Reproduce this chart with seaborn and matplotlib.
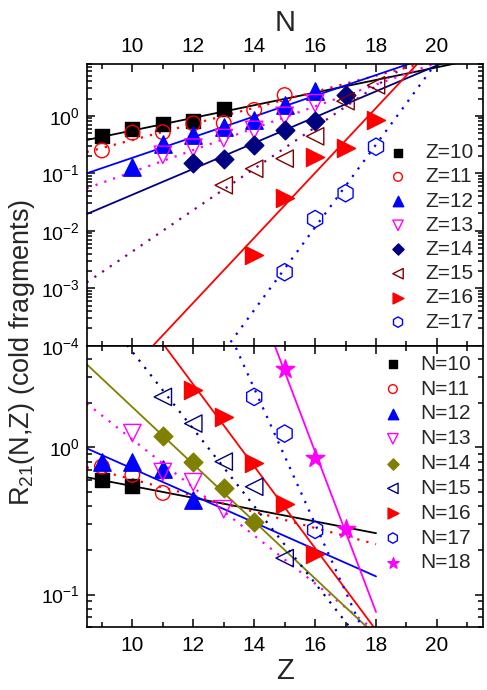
import numpy as np
import seaborn as sns
import matplotlib
matplotlib.use("Agg")
import matplotlib.pyplot as plt
from matplotlib.ticker import MultipleLocator, LogLocator, NullFormatter

# ---- upper panel : R21 versus N, one series per Z
z_names = ["Z=10", "Z=11", "Z=12", "Z=13", "Z=14", "Z=15", "Z=16", "Z=17"]
z_n = [[9, 10, 11, 12, 13],
       [9, 10, 11, 12, 13, 14, 15],
       [10, 11, 12, 13, 14, 15, 16],
       [11, 12, 13, 14, 15, 16],
       [12, 13, 14, 15, 16, 17],
       [13, 14, 15, 16, 17, 18],
       [14, 15, 16, 17, 18],
       [15, 16, 17, 18]]
z_r = [[0.45, 0.60, 0.72, 0.80, 1.32],
       [0.25, 0.51, 0.52, 0.74, 0.75, 1.27, 2.3],
       [0.13, 0.32, 0.46, 0.64, 0.85, 1.55, 2.75],
       [0.21, 0.28, 0.41, 0.57, 1.0, 1.66],
       [0.15, 0.18, 0.31, 0.56, 0.81, 2.3],
       [0.062, 0.12, 0.18, 0.44, 1.8, 3.4],
       [0.0038, 0.037, 0.195, 0.28, 0.85],
       [0.0019, 0.016, 0.045, 0.29]]
# fitted lines : log10(R21) at N=8.5 and slope per unit of N
z_fit0 = [-0.42, -0.63, -1.0, -1.26, -1.71, -2.9, -5.23, -7.34]
z_fit_slope = [0.11, 0.14, 0.18, 0.19, 0.225, 0.36, 0.565, 0.72]

# ---- lower panel : R21 versus Z, one series per N
n_names = ["N=10", "N=11", "N=12", "N=13", "N=14", "N=15", "N=16", "N=17", "N=18"]
n_z = [[9, 10],
       [9, 10, 11],
       [9, 10, 11, 12],
       [10, 11, 12, 13],
       [11, 12, 13, 14],
       [11, 12, 13, 14, 15],
       [12, 13, 14, 15, 16],
       [14, 15, 16],
       [15, 16, 17]]
n_r = [[0.60, 0.55],
       [0.74, 0.65, 0.49],
       [0.80, 0.79, 0.71, 0.44],
       [1.25, 0.68, 0.58, 0.38],
       [1.20, 0.80, 0.53, 0.31],
       [2.2, 1.45, 0.80, 0.54, 0.177],
       [2.44, 1.61, 0.78, 0.41, 0.19],
       [2.2, 1.24, 0.275],
       [3.4, 0.84, 0.28]]
n_fit0 = [-0.203, -0.135, -0.007, 0.298, 0.564, 1.042, 1.40, 2.93, 4.05]
n_fit_slope = [-0.040, -0.055, -0.0915, -0.163, -0.194, -0.262, -0.278, -0.46, -0.544]


# styles
z_mark = ["s", "o", "^", "v", "D", "<", ">", "h"]
z_size = [10, 10.5, 12.5, 12.5, 9.5, 12.5, 13, 12.5]
z_fill = [True, False, True, False, True, False, True, False]
z_col = ["black", "red", "blue", "magenta", "navy", "maroon", "red", "blue"]
z_lcol = ["black", "red", "blue", "magenta", "navy", "purple", "red", "blue"]
z_dot = [False, True, False, True, False, True, False, True]

n_mark = ["s", "o", "^", "v", "D", "<", ">", "h", "*"]
n_size = [10, 10.5, 12.5, 12.5, 9.5, 12.5, 13, 12.5, 14]
n_fill = [True, False, True, False, True, False, True, False, True]
n_col = ["black", "red", "blue", "magenta", "olive", "navy", "red", "blue", "magenta"]
n_dot = [False, True, False, True, False, True, False, True, False]


sns.set_theme(style="ticks", rc={"axes.edgecolor": "black",
                                 "xtick.color": "black",
                                 "ytick.color": "black"})
plt.rcParams["font.family"] = ["Liberation Sans", "DejaVu Sans"]
plt.rcParams["mathtext.fontset"] = "custom"
plt.rcParams["mathtext.rm"] = "Liberation Sans"
plt.rcParams["mathtext.it"] = "Liberation Sans:italic"
plt.rcParams["mathtext.bf"] = "Liberation Sans:bold"


def panel(ax, xs, ys, names, fit0, slope, marks, sizes, fills, cols, lcols, dots, xline):
    for i in range(len(names)):
        xl = np.array(xline)
        yl = 10 ** (fit0[i] + slope[i] * (xl - 8.5))
        ls = (0, (1, 3.2)) if dots[i] else "-"
        lw = 1.6 if dots[i] else 1.3
        sns.lineplot(x=xl, y=yl, ax=ax, color=lcols[i], linewidth=lw,
                     linestyle=ls, zorder=2)
    for i in range(len(names)):
        fc = cols[i] if fills[i] else "none"
        sns.scatterplot(x=xs[i], y=ys[i], ax=ax, marker=marks[i],
                        s=sizes[i] ** 2, facecolor=fc, edgecolor=cols[i],
                        linewidth=1.0, label=names[i], zorder=3)


fig = plt.figure(figsize=(4.87, 6.9), dpi=100)
ax1 = fig.add_axes([0.178, 0.499, 0.813, 0.4083])
ax2 = fig.add_axes([0.178, 0.0909, 0.813, 0.4081])
ax1.set_yscale("log")
ax2.set_yscale("log")

panel(ax1, z_n, z_r, z_names, z_fit0, z_fit_slope, z_mark, z_size, z_fill,
      z_col, z_lcol, z_dot, [8.5, 21.5])
panel(ax2, n_z, n_r, n_names, n_fit0, n_fit_slope, n_mark, n_size, n_fill,
      n_col, n_col, n_dot, [8.5, 18])

ax1.set_ylim(1e-4, 8)
ax2.set_ylim(0.06, 4.9)

for ax in (ax1, ax2):
    ax.set_xlim(8.5, 21.5)
    ax.xaxis.set_major_locator(MultipleLocator(2))
    ax.xaxis.set_minor_locator(MultipleLocator(1))
    ax.yaxis.set_major_locator(LogLocator(base=10, numticks=20))
    ax.yaxis.set_minor_locator(LogLocator(base=10, subs=np.arange(2, 10), numticks=50))
    ax.yaxis.set_minor_formatter(NullFormatter())
    ax.tick_params(which="both", direction="in", top=True, right=True,
                   bottom=True, left=True, width=1.1)
    ax.tick_params(which="major", length=6, labelsize=15, pad=6)
    ax.tick_params(axis="y", which="major", labelsize=14, pad=5)
    ax.tick_params(which="minor", length=3.5)
    for sp in ax.spines.values():
        sp.set_linewidth(1.2)
    ax.set_ylabel("")

ax1.tick_params(labelbottom=False, labeltop=True)
ax1.xaxis.set_label_position("top")
ax1.set_xlabel("N", fontsize=21, labelpad=4)
ax2.set_xlabel("Z", fontsize=21, labelpad=2)

ax1.legend(loc="upper left", bbox_to_anchor=(0.76, 0.719), frameon=False,
           fontsize=15, markerscale=0.6, handlelength=1.0, handletextpad=0.8,
           labelspacing=0.25, borderpad=0, borderaxespad=0)
ax2.legend(loc="upper left", bbox_to_anchor=(0.747, 0.968), frameon=False,
           fontsize=15, markerscale=0.6, handlelength=1.0, handletextpad=0.8,
           labelspacing=0.28, borderpad=0, borderaxespad=0)

fig.text(0.046, 0.49, "R$_{21}$(N,Z) (cold fragments)", rotation=90,
         fontsize=19.5, ha="center", va="center")

fig.savefig("out.png", dpi=100)
